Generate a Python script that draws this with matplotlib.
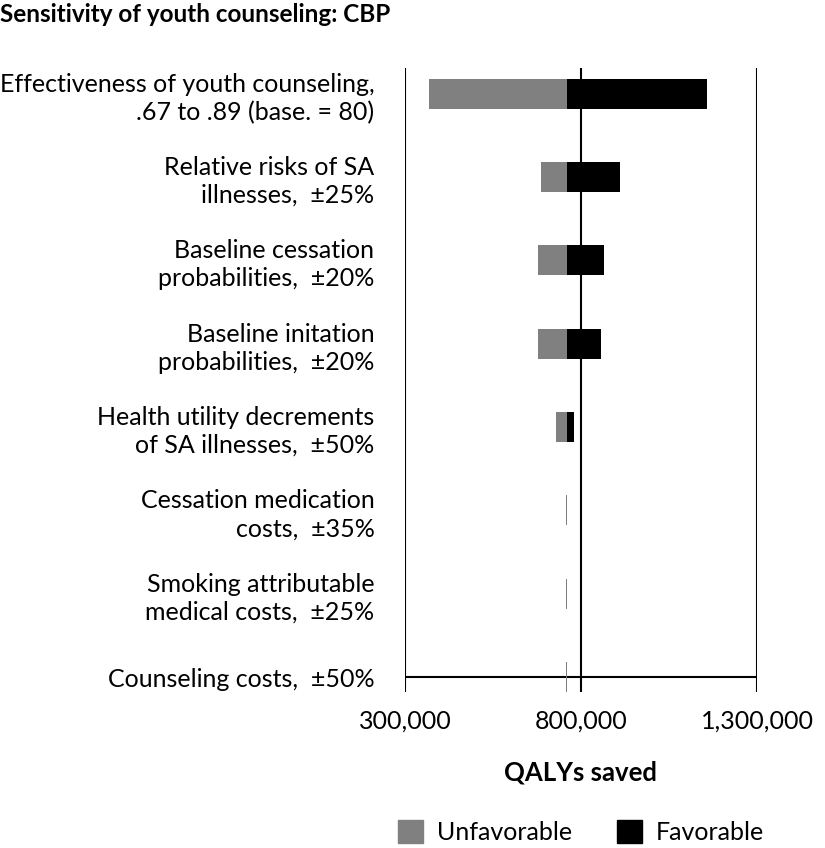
import matplotlib
matplotlib.use("Agg")
import matplotlib.pyplot as plt
from matplotlib.patches import Patch
from matplotlib.ticker import FuncFormatter

plt.rcParams["font.family"] = ["Lato", "DejaVu Sans"]

categories = [
    "Effectiveness of youth counseling,\n.67 to .89 (base. = 80)",
    "Relative risks of SA\nillnesses,  \u00b125%",
    "Baseline cessation\nprobabilities,  \u00b120%",
    "Baseline initation\nprobabilities,  \u00b120%",
    "Health utility decrements\nof SA illnesses,  \u00b150%",
    "Cessation medication\ncosts,  \u00b135%",
    "Smoking attributable\nmedical costs,  \u00b125%",
    "Counseling costs,  \u00b150%",
]
base_value = 760000
unfavorable = [369000, 687000, 679000, 679000, 728000, 757500, 757500, 757500]
favorable = [1157000, 912000, 865000, 857000, 781000, 760000, 760000, 760000]
xticks = [300000, 800000, 1300000]

fig = plt.figure(figsize=(8.25, 8.48), dpi=100)
ax = fig.add_axes([405 / 825, 1 - 692 / 848, 352 / 825, 624 / 848])

ypos = list(range(len(categories)))
bar_h = 0.36
ax.barh(ypos, [base_value - u for u in unfavorable], left=unfavorable,
        height=bar_h, color="#808080", clip_on=False, zorder=3)
ax.barh(ypos, [f - base_value for f in favorable], left=base_value,
        height=bar_h, color="black", clip_on=False, zorder=3)

ax.set_xlim(xticks[0], xticks[-1])
ax.set_ylim(7.18, -0.31)
ax.set_xticks(xticks)
ax.xaxis.set_major_formatter(FuncFormatter(lambda v, p: f"{int(v):,}"))
ax.grid(axis="x", color="black", lw=1.5, zorder=1)
ax.axhline(7, color="black", lw=1.5, zorder=2)

ax.set_yticks(ypos)
ax.set_yticklabels(categories, ha="right", multialignment="right", linespacing=1.25)
for s in ax.spines.values():
    s.set_visible(False)
ax.tick_params(axis="both", length=0, labelsize=18, colors="black")
ax.tick_params(axis="y", pad=22)
ax.tick_params(axis="x", pad=13)

ax.set_xlabel("QALYs saved", fontsize=18.5, fontweight="bold", labelpad=20)

fig.text(0.0, 1 - 15 / 848, "Sensitivity of youth counseling: CBP",
         fontsize=17.5, fontweight="bold", va="center", ha="left")

handles = [Patch(color="#808080", label="Unfavorable"),
           Patch(color="black", label="Favorable")]
fig.legend(handles=handles, loc="center", bbox_to_anchor=(581 / 825, 1 - 832 / 848),
           ncol=2, frameon=False, fontsize=18, handlelength=1.0, handleheight=1.0,
           handletextpad=0.55, columnspacing=1.8)

fig.savefig("out.png", dpi=100)
